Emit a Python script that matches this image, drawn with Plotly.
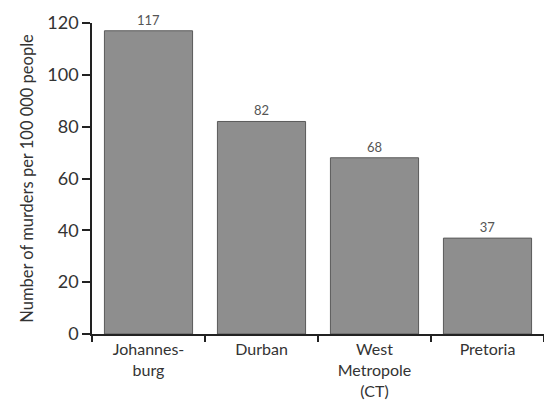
import plotly.graph_objects as go

cities = ["Johannes-<br>burg", "Durban", "West<br>Metropole<br>(CT)", "Pretoria"]
murders = [117, 82, 68, 37]
y_ticks = [0, 20, 40, 60, 80, 100, 120]

font_family = "Lato, 'Open Sans', sans-serif"

fig = go.Figure(
    go.Bar(
        x=cities,
        y=murders,
        text=[str(v) for v in murders],
        textposition="outside",
        textfont=dict(size=13, color="#555555", family=font_family),
        marker=dict(color="#8e8e8e", line=dict(color="#5a5a5a", width=1)),
        width=0.78,
        cliponaxis=False,
    )
)

fig.update_layout(
    width=544,
    height=404,
    margin=dict(l=92, r=0, t=23, b=70),
    paper_bgcolor="white",
    plot_bgcolor="white",
    showlegend=False,
    font=dict(family=font_family, size=16, color="#333333"),
)

fig.update_xaxes(
    range=[-0.5, 3.5],
    showline=True,
    linecolor="#222222",
    linewidth=1.5,
    ticks="outside",
    tickson="boundaries",
    ticklen=6,
    tickwidth=1.5,
    tickcolor="#222222",
    showgrid=False,
    tickfont=dict(size=16, color="#333333"),
)

fig.update_yaxes(
    range=[0, 120],
    tickvals=y_ticks,
    showline=True,
    linecolor="#222222",
    linewidth=1.5,
    ticks="outside",
    ticklen=8,
    tickwidth=1.5,
    tickcolor="#222222",
    showgrid=False,
    zeroline=False,
    tickfont=dict(size=18, color="#333333"),
    title=dict(text="Number of murders per 100 000 people",
               font=dict(size=16.5, color="#333333"), standoff=10),
)

fig.write_html("out.html")
